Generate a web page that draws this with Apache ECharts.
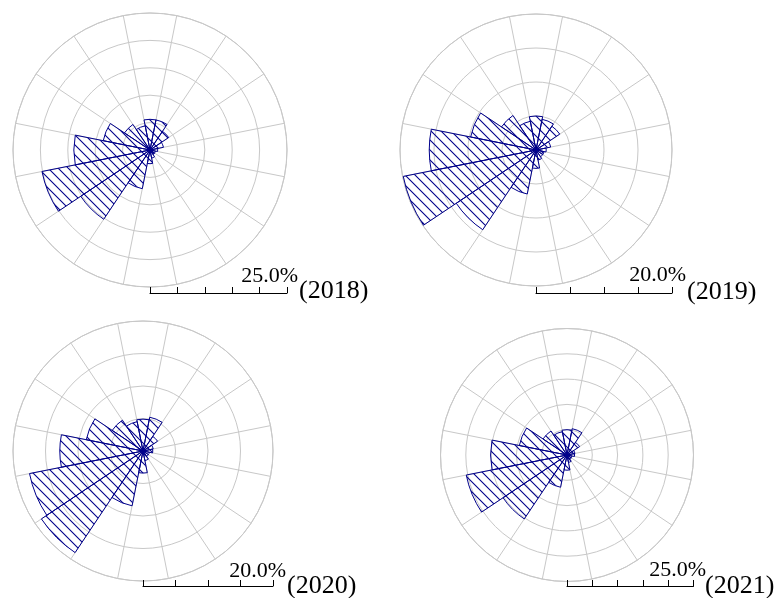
<!DOCTYPE html>
<html><head><meta charset="utf-8">
<script src="https://cdn.jsdelivr.net/npm/echarts@6/dist/echarts.min.js"></script>
<style>html,body{margin:0;padding:0;background:#fff}#c{width:783px;height:598px}</style>
</head><body><div id="c"></div>
<script>
// ---- data ----
const directions = ['N','NNE','NE','ENE','E','ESE','SE','SSE','S','SSW','SW','WSW','W','WNW','NW','NNW'];
const freq2018 = [5.6, 5.6, 4.1, 2.5, 1.4, 1.0, 1.0, 1.5, 2.5, 7.2, 15.2, 20.1, 13.9, 8.7, 5.6, 4.5];
const freq2019 = [5.0, 4.6, 4.2, 2.2, 1.5, 1.2, 1.2, 1.5, 2.7, 6.6, 14.1, 19.9, 15.7, 9.8, 6.1, 4.3];
const freq2020 = [4.9, 5.3, 2.7, 1.6, 1.5, 1.0, 1.0, 1.5, 3.4, 8.6, 18.8, 17.8, 12.8, 8.9, 5.7, 4.6];
const freq2021 = [5.0, 5.3, 3.0, 1.6, 1.5, 1.0, 1.0, 1.5, 3.0, 6.5, 15.2, 20.3, 15.1, 9.6, 5.7, 4.7];
const seriesData = [freq2018, freq2019, freq2020, freq2021];
const radiusMax = [25, 20, 20, 25];
const ringStep = 5;
const scaleLabels = ['25.0%', '20.0%', '20.0%', '25.0%'];
const yearLabels = ['(2018)', '(2019)', '(2020)', '(2021)'];

// ---- layout ----
const panels = [
  {cx:150, cy:150, r:137, barY:293, pctRight:298, pctMid:276, yrLeft:299, yrMid:291},
  {cx:536, cy:150, r:136, barY:293, pctRight:686, pctMid:275, yrLeft:687, yrMid:292},
  {cx:143, cy:451, r:130, barY:586, pctRight:286, pctMid:571, yrLeft:287, yrMid:586},
  {cx:567, cy:455, r:126.5, barY:586, pctRight:706, pctMid:570, yrLeft:705, yrMid:586}
];

function hatch(){
  const s = 10, c = document.createElement('canvas');
  c.width = s; c.height = s;
  const g = c.getContext('2d');
  g.strokeStyle = '#00008b'; g.lineWidth = 1.1;
  g.beginPath();
  g.moveTo(-2,-2); g.lineTo(s+2,s+2);
  g.moveTo(-2,s-2); g.lineTo(2,s+2);
  g.moveTo(s-2,-2); g.lineTo(s+2,2);
  g.stroke();
  return c;
}
const pat = hatch();
const gridColor = '#c8c8c8';
const font = '"Liberation Serif", "Times New Roman", serif';

const chart = echarts.init(document.getElementById('c'), null, {renderer:'canvas'});
const graphics = [];
panels.forEach((p,i)=>{
  graphics.push({type:'text', silent:true, style:{text:scaleLabels[i], x:p.pctRight, y:p.pctMid, align:'right', verticalAlign:'middle', fontSize:22, fontFamily:font, fill:'#000'}});
  graphics.push({type:'text', silent:true, style:{text:yearLabels[i], x:p.yrLeft, y:p.yrMid, align:'left', verticalAlign:'middle', fontSize:26, fontFamily:font, fill:'#000'}});
});

chart.setOption({
  animation:false,
  backgroundColor:'#fff',
  polar: panels.map(p=>({center:[p.cx,p.cy], radius:[0,p.r]})),
  angleAxis: panels.map((p,i)=>({
    polarIndex:i, type:'category', data:directions, startAngle:101.25, clockwise:true, boundaryGap:true,
    axisLine:{show:true, lineStyle:{color:gridColor, width:1}},
    axisTick:{show:false}, axisLabel:{show:false},
    splitLine:{show:true, lineStyle:{color:gridColor, width:1}}
  })),
  radiusAxis: panels.map((p,i)=>({
    polarIndex:i, type:'value', min:0, max:radiusMax[i], interval:ringStep,
    axisLine:{show:false}, axisTick:{show:false}, axisLabel:{show:false},
    splitLine:{show:true, lineStyle:{color:gridColor, width:1}}
  })),
  grid: panels.map(p=>({left:p.cx, top:p.barY-10, width:p.r, height:10})),
  xAxis: panels.map((p,i)=>({
    gridIndex:i, type:'value', min:0, max:radiusMax[i], interval:ringStep,
    axisLine:{show:true, lineStyle:{color:'#000', width:1}},
    axisTick:{show:true, inside:true, length:6, lineStyle:{color:'#000', width:1}},
    axisLabel:{show:false}, splitLine:{show:false}
  })),
  yAxis: panels.map((p,i)=>({gridIndex:i, type:'value', show:false})),
  series: seriesData.map((d,i)=>({
    type:'bar', coordinateSystem:'polar', polarIndex:i, data:d,
    barCategoryGap:'0%', silent:true,
    itemStyle:{color:{image:pat, repeat:'repeat'}, borderColor:'#00008b', borderWidth:1}
  })),
  graphic: graphics
});
</script>
</body></html>
